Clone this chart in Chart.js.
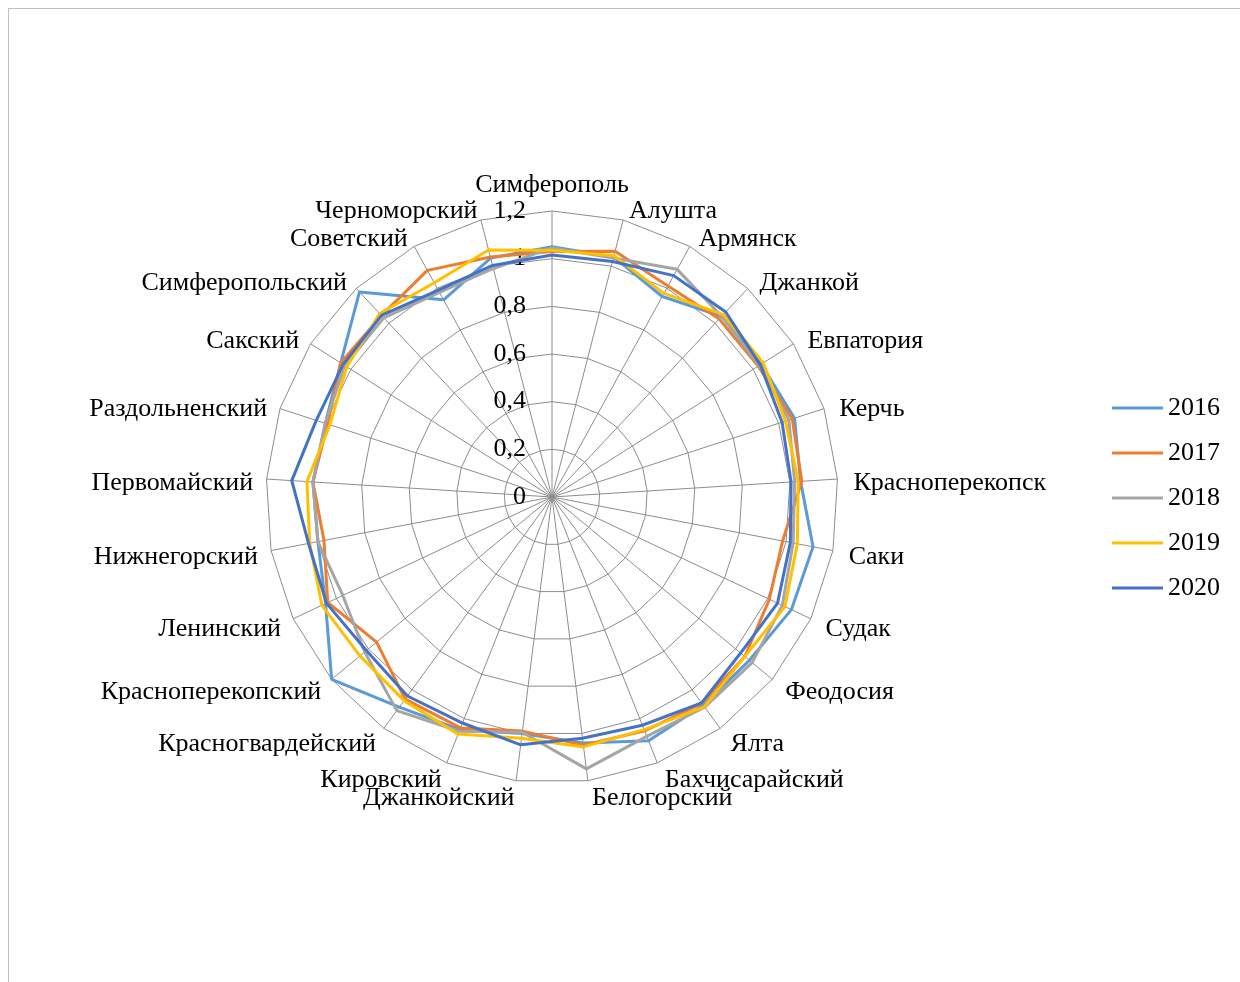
<!DOCTYPE html>
<html>
<head>
<meta charset="utf-8">
<script src="https://cdn.jsdelivr.net/npm/chart.js@4.4.0/dist/chart.umd.min.js"></script>
<style>
  html, body { margin: 0; padding: 0; background: #fff; overflow: hidden; }
  #frame { position: absolute; left: 8px; top: 8px; width: 1240px; height: 980px;
           border-left: 1px solid #bfbfbf; border-top: 1px solid #bfbfbf; }
  #wrap { position: absolute; left: 0; top: 0; width: 1240px; height: 982px; }
</style>
</head>
<body>
<div id="frame"></div>
<div id="wrap"><canvas id="radarChart"></canvas></div>
<script>
// Categories (districts / cities of Crimea)
const districts = [
  'Симферополь', 'Алушта', 'Армянск', 'Джанкой', 'Евпатория', 'Керчь',
  'Красноперекопск', 'Саки', 'Судак', 'Феодосия', 'Ялта', 'Бахчисарайский',
  'Белогорский', 'Джанкойский', 'Кировский', 'Красногвардейский',
  'Красноперекопский', 'Ленинский', 'Нижнегорский', 'Первомайский',
  'Раздольненский', 'Сакский', 'Симферопольский', 'Советский', 'Черноморский'
];

const years = ['2016', '2017', '2018', '2019', '2020'];
const colors = ['#5B9BD5', '#ED7D31', '#A5A5A5', '#FFC000', '#4472C4'];

// Values
const values2016 = [1.05, 1.04, 0.96, 1.04, 1.04, 1.07, 1.045, 1.115, 1.11, 1.075, 1.08, 1.10, 1.04,
                    1.00, 1.05, 1.09, 1.20, 1.05, 1.00, 1.005, 1.00, 1.05, 1.18, 0.944, 1.035];
const values2017 = [1.03, 1.065, 1.01, 1.025, 1.025, 1.06, 1.05, 0.985, 1.008, 1.05, 1.07, 1.055, 1.05,
                    0.99, 1.042, 1.048, 0.955, 1.04, 0.974, 1.005, 0.99, 1.05, 1.045, 1.085, 1.04];
const values2018 = [1.045, 1.035, 1.09, 1.04, 1.03, 1.045, 1.02, 1.03, 1.068, 1.09, 1.09, 1.08, 1.15,
                    0.995, 1.057, 1.108, 1.02, 0.97, 1.00, 1.005, 1.00, 1.03, 1.031, 0.98, 0.99];
const values2019 = [1.035, 1.045, 0.975, 1.05, 1.05, 1.03, 1.035, 1.048, 1.08, 1.05, 1.088, 1.05, 1.057,
                    1.02, 1.07, 1.056, 1.046, 1.067, 1.035, 1.03, 0.98, 1.02, 1.056, 1.026, 1.07];
const values2020 = [1.015, 1.02, 1.06, 1.065, 1.035, 1.015, 1.005, 1.018, 1.046, 1.027, 1.068, 1.03, 1.02,
                    1.048, 1.02, 1.032, 1.011, 1.046, 1.04, 1.094, 1.04, 1.038, 1.045, 0.99, 1.003];

const tickValues = [0, 0.2, 0.4, 0.6, 0.8, 1, 1.2];

const seriesValues = [values2016, values2017, values2018, values2019, values2020];

const serif = "'Liberation Serif', 'Times New Roman', serif";

// Tick labels sit left of the vertical axis: pad with trailing spaces
function tickLabel(v) {
  const s = String(Math.round(v * 10) / 10).replace('.', ',');
  let units = 0;
  for (const c of s) units += (c === ',') ? 1 : 2;
  return s + ' '.repeat(units + 8);
}

// Legend marks: a short line at the left of a wider transparent image
const legendMarks = colors.map(c => {
  const img = document.createElement('canvas');
  img.width = 54;
  img.height = 4;
  const g = img.getContext('2d');
  g.fillStyle = c;
  g.fillRect(0, 0.5, 51, 3);
  return img;
});

// Category labels sit a little lower than Chart.js puts them
const labelNudge = {
  id: 'labelNudge',
  afterLayout(chart) {
    const items = chart.scales.r._pointLabelItems || [];
    items.forEach((it, i) => {
      const dy = i === 0 ? 2 : 4.5;
      const dx = it.textAlign === 'left' ? 2.5 : 0;
      it.y += dy; it.top += dy; it.bottom += dy;
      it.x += dx; it.left += dx; it.right += dx;
    });
  }
};

const ctx = document.getElementById('radarChart').getContext('2d');
const radarChart = new Chart(ctx, {
  type: 'radar',
  data: {
    labels: districts,
    datasets: years.map((y, i) => ({
      label: y,
      data: seriesValues[i],
      borderColor: colors[i],
      backgroundColor: colors[i],
      borderWidth: 3,
      borderJoinStyle: 'round',
      fill: false,
      pointRadius: 0,
      pointHoverRadius: 0,
      tension: 0,
      order: years.length - 1 - i
    }))
  },
  plugins: [labelNudge],
  options: {
    responsive: true,
    maintainAspectRatio: false,
    animation: false,
    layout: { padding: { left: 0, right: 10, top: 177, bottom: 177 } },
    plugins: {
      tooltip: { enabled: false },
      legend: {
        position: 'right',
        title: { display: true, text: '', padding: 1, font: { size: 10 } },
        labels: {
          usePointStyle: true,
          pointStyleWidth: 32,
          padding: 19,
          color: '#000',
          font: { family: serif, size: 26 },
          sort: (a, b) => a.datasetIndex - b.datasetIndex,
          generateLabels: chart => Chart.defaults.plugins.legend.labels.generateLabels(chart)
            .map(item => Object.assign(item, { pointStyle: legendMarks[item.datasetIndex] }))
        }
      }
    },
    scales: {
      r: {
        min: -0.000001,
        max: 1.2,
        afterBuildTicks: axis => { axis.ticks = tickValues.map(v => ({ value: v })); },
        ticks: {
          showLabelBackdrop: false,
          color: '#000',
          font: { family: serif, size: 26 },
          callback: v => tickLabel(v)
        },
        grid: { color: '#8c8c8c', lineWidth: 1, circular: false },
        angleLines: { color: '#8c8c8c', lineWidth: 1 },
        pointLabels: {
          color: '#000',
          padding: c => (c.index === 0 ? 13 : -1.5),
          font: { family: serif, size: 26, lineHeight: 0 }
        }
      }
    }
  }
});
</script>
</body>
</html>
